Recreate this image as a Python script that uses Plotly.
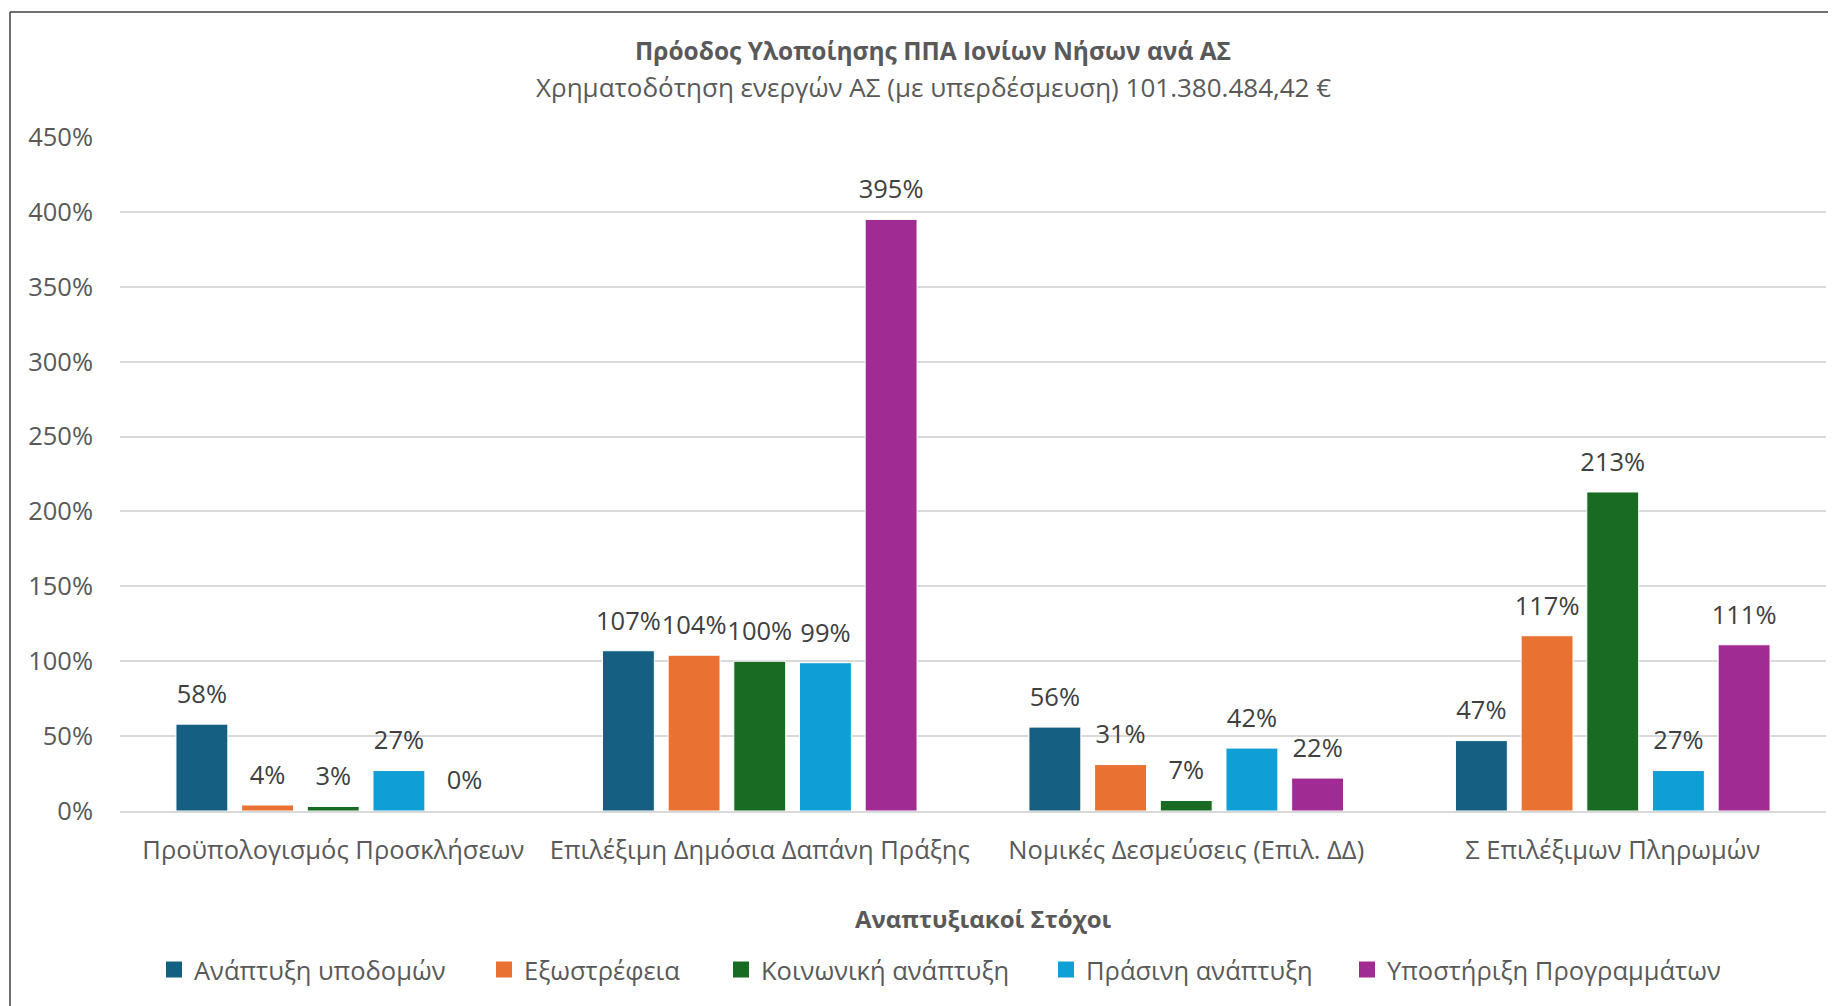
import plotly.graph_objects as go

categories = ["Προϋπολογισμός Προσκλήσεων", "Επιλέξιμη Δημόσια Δαπάνη Πράξης",
              "Νομικές Δεσμεύσεις (Επιλ. ΔΔ)", "Σ Επιλέξιμων Πληρωμών"]
series_names = ["Ανάπτυξη υποδομών", "Εξωστρέφεια", "Κοινωνική ανάπτυξη",
                "Πράσινη ανάπτυξη", "Υποστήριξη Προγραμμάτων"]
infra = [0.58, 1.07, 0.56, 0.47]
outward = [0.04, 1.04, 0.31, 1.17]
social = [0.03, 1.00, 0.07, 2.13]
green = [0.27, 0.99, 0.42, 0.27]
support = [0.003, 3.95, 0.22, 1.11]
series_values = [infra, outward, social, green, support]
colors = ["#156082", "#E97132", "#196B24", "#0F9ED5", "#A02B93"]

title = "Πρόοδος Υλοποίησης ΠΠΑ Ιονίων Νήσων ανά ΑΣ"
subtitle = "Χρηματοδότηση ενεργών ΑΣ (με υπερδέσμευση) 101.380.484,42 €"
x_title = "Αναπτυξιακοί Στόχοι"

FONT = "Open Sans"
FS = 25.5
# page body has an 8px margin: figure is laid out in page coordinates minus 8
OFF = 8
W, H = 1836 - OFF, 1006 - OFF
PL, PR, PT, PB = 120, 1826, 137, 811   # plot area in page coordinates
L, R, T, B = PL - OFF, W - (PR - OFF), PT - OFF, H - (PB - OFF)
PW, PH = PR - PL, PB - PT


def px(x):
    return (x - PL) / PW


def py(y):
    return (PB - y) / PH


legend_x = [164, 494, 731, 1056, 1357]   # swatch left edges (page px)

fig = go.Figure()
for i, (name, vals, col) in enumerate(zip(series_names, series_values, colors)):
    fig.add_trace(go.Bar(
        x=categories, y=vals, name=name, offsetgroup=str(i), showlegend=False,
        marker=dict(color=col, line=dict(color="white", width=1)),
    ))
for i, vals in enumerate(series_values):
    fig.add_trace(go.Scatter(
        x=categories, y=vals, mode="markers+text", offsetgroup=str(i), showlegend=False,
        marker=dict(size=22, opacity=0), texttemplate="%{y:.0%}", textposition="top center",
        textfont=dict(family=FONT, size=FS, color="#404040"), hoverinfo="skip",
        cliponaxis=False,
    ))
# legend entries (square swatches like the original)
for i, (name, col) in enumerate(zip(series_names, colors)):
    lg = "legend" if i == 0 else f"legend{i + 1}"
    fig.add_trace(go.Scatter(
        x=[None], y=[None], mode="markers", name=name, legend=lg, showlegend=True,
        marker=dict(symbol="square", size=16, color=col),
    ))

layout_legends = {}
for i, lx in enumerate(legend_x):
    key = "legend" if i == 0 else f"legend{i + 1}"
    layout_legends[key] = dict(
        orientation="h", x=px(lx - 10), y=py(970), xanchor="left", yanchor="middle",
        font=dict(family=FONT, size=FS, color="#595959"), bgcolor="rgba(0,0,0,0)",
        itemwidth=30,
    )

fig.update_layout(
    width=W, height=H,
    margin=dict(l=L, r=R, t=T, b=B, pad=0),
    paper_bgcolor="white", plot_bgcolor="white",
    barmode="group", bargap=0.23, bargroupgap=0.21,
    scattermode="group", scattergap=0.23,
    font=dict(family=FONT, color="#595959"),
    showlegend=True,
    xaxis=dict(showgrid=False, showline=True, linecolor="#d9d9d9", linewidth=1.5,
               tickfont=dict(family=FONT, size=FS, color="#595959"),
               ticks="", ticklabelstandoff=16),
    yaxis=dict(range=[0, 4.5], dtick=0.5, tickformat=".0%", showgrid=True,
               gridcolor="#d9d9d9", gridwidth=1.5, zeroline=False, showline=False,
               tickfont=dict(family=FONT, size=FS, color="#595959"),
               ticks="", ticklabelstandoff=26),
    **layout_legends,
)

fig.add_annotation(text="<b>" + title + "</b>", xref="paper", yref="paper",
                   x=px(933), y=py(50), xanchor="center", yanchor="middle", showarrow=False,
                   font=dict(family=FONT, size=24.5, color="#595959"))
fig.add_annotation(text=subtitle, xref="paper", yref="paper",
                   x=px(933), y=py(87), xanchor="center", yanchor="middle", showarrow=False,
                   font=dict(family=FONT, size=26, color="#595959"))
fig.add_annotation(text="<b>" + x_title + "</b>", xref="paper", yref="paper",
                   x=px(984), y=py(918), xanchor="center", yanchor="middle", showarrow=False,
                   font=dict(family=FONT, size=24, color="#595959"))

# chart border (top and left visible in the crop)
fig.add_shape(type="line", xref="paper", yref="paper", x0=px(10), x1=px(1900),
              y0=py(12), y1=py(12), line=dict(color="#404040", width=1.5))
fig.add_shape(type="line", xref="paper", yref="paper", x0=px(10), x1=px(10),
              y0=py(12), y1=py(1100), line=dict(color="#404040", width=1.5))

fig.write_html("out.html")
